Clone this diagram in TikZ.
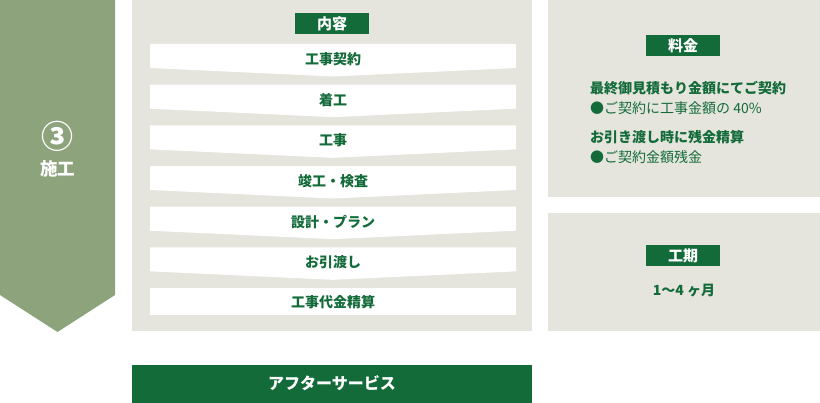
\documentclass[tikz,border=0pt]{standalone}
\usepackage{fontspec}
\setmainfont{Noto Sans CJK JP}
\definecolor{deepgreen}{HTML}{136B3A}
\definecolor{sage}{HTML}{8DA37C}
\definecolor{panelgray}{HTML}{E5E5DD}
\tikzset{
	stagetext/.style={text=deepgreen,font=\fontsize{14}{16}\selectfont\bfseries},
	tagbox/.style={fill=deepgreen,text=white,minimum width=74pt,minimum height=21pt,inner sep=0pt,font=\fontsize{15}{17}\selectfont\bfseries},
	notetext/.style={text=deepgreen,anchor=west,inner sep=0pt,font=\fontsize{14}{16}\selectfont}
}
\newcommand{\Stage}[3]{
	\begin{scope}[yshift=-#2 pt]
		%strip
		\fill[white](150,0)--(516,0)--(516,24)--(333,32.5)--(150,24)--cycle;
		%label
		\node[stagetext] (stage#1) at (333,15){#3};
	\end{scope}
}

\begin{document}
\begin{tikzpicture}[x=1pt,y=-1pt]
\useasboundingbox (0,0) rectangle (820,403);
%arrow
\fill[sage](0,0)--(115,0)--(115,295)--(57.5,332)--(0,295)--cycle;
\node[text=white,font=\fontsize{32}{34}\selectfont\bfseries] (num) at (57.5,136){③};
\node[text=white,font=\fontsize{17.5}{19}\selectfont\bfseries] (phase) at (57.5,168.5){施工};
%panels
\fill[panelgray](132,0) rectangle (532,331);
\fill[panelgray](548,0) rectangle (820,197);
\fill[panelgray](548,213) rectangle (820,331);
%content
\node[tagbox] (content) at (332,24){内容};
\foreach \name [count=\i from 0] in {工事契約,着工,工事,竣工・検査,設計・プラン,お引渡し}{
	\pgfmathsetmacro{\stagetop}{44+40.67*\i}
	\Stage{\i}{\stagetop}{\name}
}
\fill[white](150,288) rectangle (516,315);
\node[stagetext] (stage6) at (333,302){工事代金精算};
%price
\node[tagbox] (price) at (683,45.5){料金};
\node[notetext,font=\fontsize{14}{16}\selectfont\bfseries] (price1) at (590,88){最終御見積もり金額にてご契約};
\node[notetext] (price2) at (590,108){●ご契約に工事金額の 40\%};
\node[notetext,font=\fontsize{14}{16}\selectfont\bfseries] (price3) at (590,137){お引き渡し時に残金精算};
\node[notetext] (price4) at (590,157){●ご契約金額残金};
%period
\node[tagbox] (period) at (683,255.5){工期};
\node[stagetext] (months) at (684,291){1〜4 ヶ月};
%after service
\fill[deepgreen](132,365) rectangle (532,403);
\node[text=white,font=\fontsize{16}{18}\selectfont\bfseries] (service) at (332,383.5){アフターサービス};
\end{tikzpicture}
\end{document}
